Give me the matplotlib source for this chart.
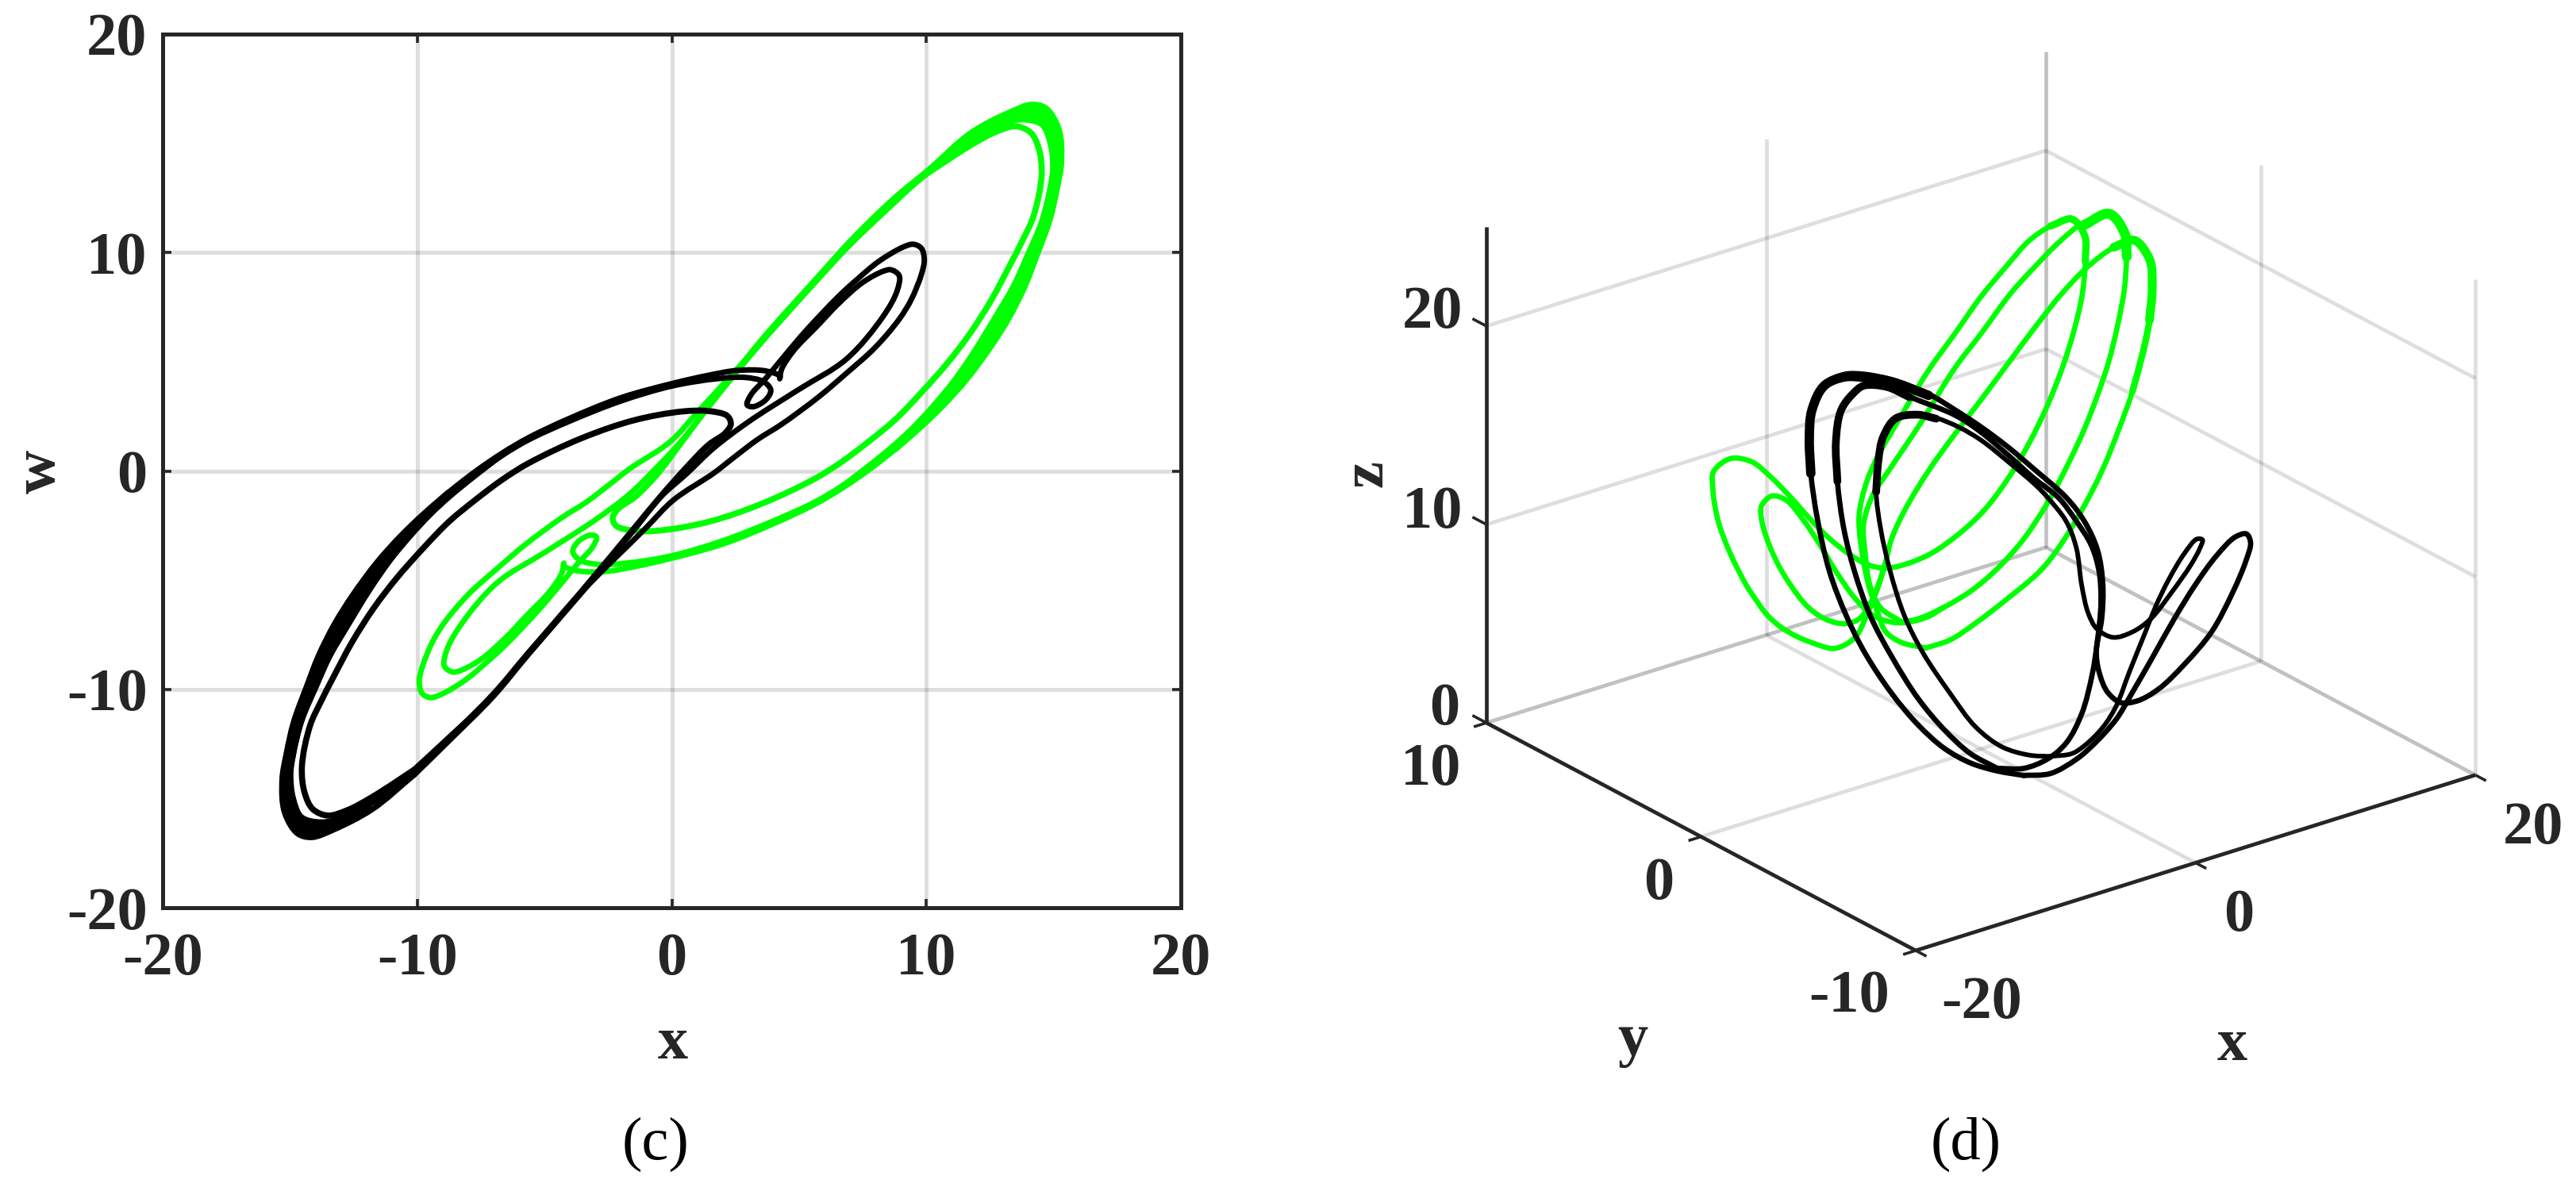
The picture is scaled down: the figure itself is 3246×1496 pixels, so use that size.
import matplotlib
matplotlib.use("Agg")
import matplotlib.pyplot as plt
from matplotlib.path import Path
from matplotlib.patches import PathPatch

W, H = 3246, 1496
BLACK, GREEN = "#000000", "#00ff00"
AXC = "#262626"
TXT = "#262626"

# ---------- panel (c): x-w plane ----------
black_1_x = [-9.96,-8.70,-7.03,-5.63,-3.56,-1.06,0.08,1.64,2.40,3.36,4.32,5.75,6.86,7.98,8.93,9.41,9.81,9.92,9.80,9.49,9.09,8.14,7.26,6.54,5.27,4.32,3.68,3.12,2.96,3.20,3.68,3.89,3.60,2.88,1.77,0.02,-2.0,-4.07,-5.63,-6.67,-7.71,-8.75,-9.48,-10.21,-11.04,-11.87,-12.70,-13.43,-13.95,-14.53,-14.87,-14.97,-14.87,-14.53,-13.75,-12.91,-12.12,-11.21,-9.96]
black_1_w = [-13.5,-12.14,-10.3,-8.36,-5.57,-2.66,-1.32,-0.11,0.58,1.43,2.14,3.37,4.47,5.64,6.94,7.85,9.01,9.66,10.2,10.38,10.25,9.60,8.75,7.98,6.42,5.12,4.22,3.50,3.02,2.94,3.24,3.70,4.09,4.28,4.22,3.89,3.2,2.25,1.42,0.70,-0.21,-1.2,-1.99,-2.9,-4.06,-5.45,-7.03,-8.48,-9.82,-11.42,-12.99,-13.9,-14.99,-15.86,-16.08,-15.86,-15.41,-14.81,-13.5]
black_2_x = [-10.1,-8.70,-7.03,-5.63,-3.56,-1.48,-0.44,0.6,1.64,3.04,4.95,6.86,8.30,8.85,8.93,8.61,8.30,7.5,6.54,5.75,4.79,4.32,4.24,4.24,3.68,2.56,1.45,0.08,-2.0,-4.07,-5.63,-6.67,-7.71,-8.75,-9.72,-10.65,-11.59,-12.53,-13.25,-13.88,-14.37,-14.86,-15.14,-15.31,-15.21,-14.69,-14.14,-13.30,-11.77,-10.1]
black_2_w = [-13.9,-12.3,-10.35,-8.4,-5.6,-2.7,-1.2,-0.11,1.04,2.27,3.70,5.12,7.07,8.24,8.95,9.21,9.14,8.63,7.65,6.68,5.51,4.67,4.22,4.35,4.58,4.60,4.38,4.02,3.35,2.38,1.52,0.81,-0.02,-0.96,-1.93,-2.97,-4.19,-5.67,-7.0,-8.46,-9.94,-11.51,-12.93,-14.14,-15.65,-16.62,-16.78,-16.44,-15.5,-13.9]
black_3_x = [-9.75,-7.03,-5.63,-3.56,-1.48,-0.44,0.6,1.45,2.09,2.32,2.17,1.45,0.4,-1.48,-3.56,-5.63,-6.67,-7.71,-8.75,-9.79,-10.83,-11.72,-12.55,-13.27,-13.8,-14.21,-14.53,-14.42,-14.09,-13.51,-12.74,-11.77,-9.75]
black_3_w = [-13.4,-10.25,-8.33,-5.54,-2.63,-1.17,0.19,1.2,1.72,2.14,2.53,2.74,2.72,2.32,1.49,0.35,-0.41,-1.32,-2.32,-3.57,-4.94,-6.3,-7.82,-9.39,-10.6,-11.66,-13.54,-14.75,-15.5,-15.78,-15.53,-14.93,-13.4]
black_4_x = [-8.75,-9.6,-10.43,-11.32,-12.2,-12.97,-13.65,-14.2,-14.7,-15.0,-15.14,-15.04,-14.61,-13.95,-13.1,-11.95]
black_4_w = [-1.05,-1.95,-2.92,-4.16,-5.56,-7.0,-8.47,-9.89,-11.47,-12.96,-14.02,-15.32,-16.24,-16.43,-16.15,-15.45]
black_5_x = [-13.65,-14.2,-14.7,-15.0,-15.14,-15.04,-14.61,-13.95,-13.1]
black_5_w = [-8.47,-9.89,-11.47,-12.96,-14.02,-15.32,-16.24,-16.43,-16.15]

green_1_x = [9.96,8.70,7.03,5.63,3.56,1.06,-0.08,-1.64,-2.40,-3.36,-4.32,-5.75,-6.86,-7.98,-8.93,-9.41,-9.81,-9.92,-9.80,-9.49,-9.09,-8.14,-7.26,-6.54,-5.27,-4.32,-3.68,-3.12,-2.96,-3.20,-3.68,-3.89,-3.60,-2.88,-1.77,-0.02,2.0,4.07,5.63,6.67,7.71,8.75,9.48,10.21,11.04,11.87,12.70,13.43,13.95,14.53,14.87,14.97,14.87,14.53,13.75,12.91,12.12,11.21,9.96]
green_1_w = [13.55,12.3,10.45,8.65,5.95,2.75,1.32,0.11,-0.58,-1.43,-2.14,-3.37,-4.47,-5.64,-6.94,-7.85,-9.01,-9.66,-10.2,-10.38,-10.25,-9.60,-8.75,-7.98,-6.42,-5.12,-4.22,-3.50,-3.02,-2.94,-3.24,-3.70,-4.09,-4.28,-4.22,-3.89,-3.2,-2.25,-1.42,-0.70,0.21,1.2,1.99,2.9,4.06,5.45,7.03,8.48,9.82,11.42,12.99,13.9,14.99,15.86,16.08,15.86,15.41,14.81,13.55]
green_2_x = [10.1,8.70,7.03,5.63,3.56,1.48,0.44,-0.6,-1.64,-3.04,-4.95,-6.86,-8.30,-8.85,-8.93,-8.61,-8.30,-7.5,-6.54,-5.75,-4.79,-4.32,-4.24,-4.24,-3.68,-2.56,-1.45,-0.08,2.0,4.07,5.63,6.67,7.71,8.75,9.72,10.65,11.59,12.53,13.25,13.88,14.37,14.86,15.14,15.31,15.21,14.69,14.14,13.30,11.77,10.1]
green_2_w = [13.8,12.45,10.55,8.75,6.05,3.0,1.45,0.15,-1.04,-2.27,-3.70,-5.12,-7.07,-8.24,-8.95,-9.21,-9.14,-8.63,-7.65,-6.68,-5.51,-4.67,-4.22,-4.35,-4.58,-4.60,-4.38,-4.02,-3.35,-2.38,-1.52,-0.81,0.02,0.96,1.93,2.97,4.19,5.67,7.0,8.46,9.94,11.51,12.93,14.14,15.65,16.62,16.78,16.44,15.5,13.8]
green_3_x = [9.75,7.03,5.63,3.56,1.48,0.44,-0.6,-1.45,-2.09,-2.32,-2.17,-1.45,-0.4,1.48,3.56,5.63,6.67,7.71,8.75,9.79,10.83,11.72,12.55,13.27,13.8,14.21,14.53,14.42,14.09,13.51,12.74,11.77,9.75]
green_3_w = [13.4,10.4,8.65,5.95,3.0,1.4,-0.19,-1.2,-1.72,-2.14,-2.53,-2.74,-2.72,-2.32,-1.49,-0.35,0.41,1.32,2.32,3.57,4.94,6.3,7.82,9.39,10.6,11.66,13.54,14.75,15.5,15.78,15.53,14.93,13.4]
green_4_x = [8.75,9.6,10.43,11.32,12.2,12.97,13.65,14.2,14.7,15.0,15.14,15.04,14.61,13.95,13.1,11.95]
green_4_w = [1.05,1.95,2.92,4.16,5.56,7.0,8.47,9.89,11.47,12.96,14.02,15.32,16.24,16.43,16.15,15.45]
green_5_x = [13.65,14.2,14.7,15.0,15.14,15.04,14.61,13.95,13.1]
green_5_w = [8.47,9.89,11.47,12.96,14.02,15.32,16.24,16.43,16.15]

ticks_c = [-20, -10, 0, 10, 20]
ticklabels_c = ["-20", "-10", "0", "10", "20"]

# ---------- panel (d): curves read in the plane of the projected picture ----------
g1_u = [683,620,578,557,530,512,507,523,551,627,690,760,829,899,955,1011,1066,1101,1103,1094,1073,1045,1004,955,899,836,767,690,613,571,530,481,432,383,327,272,223,171,125,122,136,167,209,226,265,300,341,383,439,474,502,523,544,564,578,592,627,690,760,829,899,969,1038,1108,1178,1230,1272,1279,1272,1255,1227,1192,1150,1101,1038,983,892,815,746,683]
g1_v = [1760,1740,1700,1630,1510,1370,1260,1150,1050,860,710,570,430,310,220,165,135,200,300,430,560,690,840,985,1120,1240,1332,1408,1450,1458,1445,1405,1350,1280,1190,1110,1055,1043,1090,1160,1280,1400,1520,1558,1635,1680,1715,1740,1762,1745,1710,1650,1580,1500,1430,1350,1240,1090,950,820,685,550,425,320,245,215,290,400,520,640,790,930,1080,1220,1370,1470,1580,1665,1730,1760]
g2_u = [620,565,537,523,519,544,585,669,760,829,906,969,1038,1101,1164,1206,1211,1206,1188,1164,1136,1101,1059,1004,934,864,801,732,662,620]
g2_v = [1662,1610,1530,1400,1290,1180,1090,910,700,570,420,320,220,150,125,190,280,400,540,680,800,930,1060,1210,1360,1470,1545,1605,1650,1662]
g3_u = [732,683,620,572,537,495,446,404,362,314,279,251,251,279,321,376,425,467,502,530,558,578]
g3_v = [1605,1645,1665,1655,1630,1570,1470,1370,1280,1200,1185,1220,1280,1400,1510,1610,1655,1668,1655,1610,1520,1430]
g_peak1_u = [1011,1066,1101,1103]
g_peak1_v = [165,138,200,300]
g_peak2_u = [1101,1164,1206,1212]
g_peak2_v = [160,118,190,280]
g_peak3_u = [1178,1230,1272,1279,1272]
g_peak3_v = [245,218,290,400,520]
g_tail3_u = [1279,1272,1255,1227]
g_tail3_v = [400,520,640,790]

k_a_u = [941,871,801,732,662,592,523,474,429,397,380,376,383,418,470,520,590,690,760,829,899,969,1052,1100,1135,1149,1146,1132,1139,1163,1198,1240,1296,1365,1435,1491,1526,1538,1526,1498,1449,1393,1337,1282,1226,1184,1128,1080,1010,941]
k_a_v = [2242,2225,2195,2140,2050,1930,1780,1640,1470,1270,1100,970,860,760,725,725,745,800,860,925,1000,1085,1190,1280,1390,1520,1650,1770,1850,1930,1967,1960,1915,1820,1700,1550,1430,1360,1328,1340,1410,1520,1650,1790,1930,2030,2120,2180,2235,2242]
k_b_u = [871,801,732,662,592,537,495,467,450,446,460,490,520,580,640,760,829,899,969,1031,1079,1118,1139,1144,1135,1121,1093,1052,1003,941,871]
k_b_v = [2215,2160,2070,1950,1790,1640,1470,1310,1130,980,860,800,765,770,810,880,945,1030,1120,1190,1280,1370,1470,1590,1730,1860,2010,2120,2180,2215,2215]
k_c_u = [1010,955,885,815,746,676,627,589,564,552,558,571,606,662,710,770,829,899,969,1003,1052,1079,1093,1111,1135,1177,1226,1275,1330,1379,1404,1411,1397,1365,1323,1289,1261,1219,1184,1149,1100,1066,1010]
k_c_v = [2170,2165,2135,2060,1930,1780,1640,1470,1310,1170,1050,960,890,875,890,925,975,1055,1140,1190,1280,1380,1520,1630,1690,1720,1700,1650,1550,1450,1385,1350,1348,1400,1500,1600,1700,1850,1980,2060,2130,2160,2170]
k_hump1_u = [380,376,383,418,470,520,590,690]
k_hump1_v = [1100,970,860,765,735,737,752,805]
k_hump2_u = [450,446,460,490,520,580,640]
k_hump2_v = [1130,980,860,800,768,773,812]
k_hump3_u = [552,558,571,606,662,710]
k_hump3_v = [1170,1050,960,890,878,893]

ticks_x3 = [-20, 0, 20]
ticks_y3 = [-10, 0, 10]
ticks_z3 = [0, 10, 20]


def px(x, y):
    return x / W, 1 - y / H


def smooth(xs, ys):
    """Path through the read points, drawn with centripetal cubic segments."""
    n = len(xs)
    d = []
    for i in range(n - 1):
        d.append(max(((xs[i + 1] - xs[i]) ** 2 + (ys[i + 1] - ys[i]) ** 2) ** 0.25, 1e-6))
    mx, my = [0.0] * n, [0.0] * n
    for i in range(n):
        if i == 0:
            mx[i], my[i] = (xs[1] - xs[0]) / d[0], (ys[1] - ys[0]) / d[0]
        elif i == n - 1:
            mx[i], my[i] = (xs[i] - xs[i - 1]) / d[i - 1], (ys[i] - ys[i - 1]) / d[i - 1]
        else:
            a, b = d[i - 1], d[i]
            mx[i] = (xs[i] - xs[i - 1]) / a - (xs[i + 1] - xs[i - 1]) / (a + b) + (xs[i + 1] - xs[i]) / b
            my[i] = (ys[i] - ys[i - 1]) / a - (ys[i + 1] - ys[i - 1]) / (a + b) + (ys[i + 1] - ys[i]) / b
    verts = [(xs[0], ys[0])]
    codes = [Path.MOVETO]
    for i in range(n - 1):
        verts += [(xs[i] + mx[i] * d[i] / 3, ys[i] + my[i] * d[i] / 3),
                  (xs[i + 1] - mx[i + 1] * d[i] / 3, ys[i + 1] - my[i + 1] * d[i] / 3),
                  (xs[i + 1], ys[i + 1])]
        codes += [Path.CURVE4] * 3
    return Path(verts, codes)


def curve(ax, xs, ys, color, lw, z=3):
    ax.add_patch(PathPatch(smooth(xs, ys), fill=False, edgecolor=color, lw=lw,
                           capstyle="round", joinstyle="round", zorder=z))


SERIF = "Liberation Serif"
FS = 55

# ---------- panel (c) ----------
fig = plt.figure(figsize=(W / 100, H / 100), dpi=100)
fig.patch.set_facecolor("white")
ax = fig.add_axes([205 / W, 1 - 1144 / H, (1488 - 205) / W, (1144 - 43) / H])
ax.set_xlim(-20, 20)
ax.set_ylim(-20, 20)
ax.set_xticks(ticks_c)
ax.set_yticks(ticks_c)
ax.set_xticklabels(ticklabels_c, family=SERIF, weight="bold", fontsize=FS, color=TXT)
ax.set_yticklabels(ticklabels_c, family=SERIF, weight="bold", fontsize=FS, color=TXT)
ax.tick_params(direction="in", top=True, right=True, length=8, width=2.6, color=AXC)
ax.tick_params(axis="x", pad=22)
ax.tick_params(axis="y", pad=14)
ax.grid(True, color="black", alpha=0.13, lw=3.6)
ax.set_axisbelow(True)
for s in ax.spines.values():
    s.set_linewidth(3.6)
    s.set_color(AXC)

LW = 5.0
for (cx, cy, lw) in [(green_1_x, green_1_w, LW), (green_2_x, green_2_w, LW),
                     (green_3_x, green_3_w, 5.5), (green_4_x, green_4_w, 8.0),
                     (green_5_x, green_5_w, 11.0)]:
    curve(ax, cx, cy, GREEN, lw)
for (cx, cy, lw) in [(black_1_x, black_1_w, LW), (black_2_x, black_2_w, LW),
                     (black_3_x, black_3_w, 5.5), (black_4_x, black_4_w, 8.0),
                     (black_5_x, black_5_w, 11.0)]:
    curve(ax, cx, cy, BLACK, lw, z=4)

fig.text(*px(848, 1316), "x", family=SERIF, weight="bold", fontsize=FS, color=TXT, ha="center", va="center")
fig.text(*px(50, 594), "w", family=SERIF, weight="bold", fontsize=FS, color=TXT, ha="center", va="center", rotation=90)
fig.text(*px(826, 1442), "(c)", family=SERIF, fontsize=FS, color="black", ha="center", va="center")

# ---------- panel (d) ----------
ov = fig.add_axes([0, 0, 1, 1], facecolor="none")
ov.set_axis_off()
ov.set_xlim((0 - 2100) * 2.09, (W - 2100) * 2.09)
ov.set_ylim((H - 230) * 3, (0 - 230) * 3)


def proj(x, y, z):
    pu = 1873 + (x + 20) * 17.63 + (10 - y) * 27.05
    pv = 911 - (x + 20) * 5.53 + (10 - y) * 14.35 - z * 25
    return (pu - 2100) * 2.09, (pv - 230) * 3


def seg(a, b, **kw):
    ua, va = proj(*a)
    ub, vb = proj(*b)
    ov.plot([ua, ub], [va, vb], solid_capstyle="butt", **kw)


grid = dict(color="black", alpha=0.13, lw=3.4, zorder=1)
for t in ticks_x3:
    seg((t, -10, 0), (t, 10, 0), **grid)
    seg((t, 10, 0), (t, 10, 25), **grid)
for t in ticks_y3:
    seg((-20, t, 0), (20, t, 0), **grid)
    seg((20, t, 0), (20, t, 25), **grid)
for t in ticks_z3:
    seg((-20, 10, t), (20, 10, t), **grid)
    seg((20, 10, t), (20, -10, t), **grid)

axis = dict(color=AXC, lw=3.4, zorder=2)
seg((-20, 10, 0), (-20, 10, 25), **axis)
seg((-20, 10, 0), (-20, -10, 0), **axis)
seg((-20, -10, 0), (20, -10, 0), **axis)
tick = dict(color=AXC, lw=2.6, zorder=2)
for t in ticks_z3:
    seg((-20, 10, t), (-20, 10.65, t), **tick)
for t in ticks_y3:
    seg((-20, t, 0), (-20.9, t, 0), **tick)
for t in ticks_x3:
    seg((t, -10, 0), (t, -10.5, 0), **tick)

for cu, cv, lw in [(g1_u, g1_v, 4.8), (g2_u, g2_v, 4.8), (g3_u, g3_v, 4.8),
                   (g_tail3_u, g_tail3_v, 6.0),
                   (g_peak1_u, g_peak1_v, 6.5), (g_peak2_u, g_peak2_v, 9.0), (g_peak3_u, g_peak3_v, 8.0)]:
    curve(ov, cu, cv, GREEN, lw)
for cu, cv, lw in [(k_a_u, k_a_v, 4.8), (k_b_u, k_b_v, 4.8), (k_c_u, k_c_v, 4.2),
                   (k_hump1_u, k_hump1_v, 8.5), (k_hump2_u, k_hump2_v, 7.0), (k_hump3_u, k_hump3_v, 7.0)]:
    curve(ov, cu, cv, BLACK, lw, z=4)

labels_d = [("20", 1805, 395), ("10", 1805, 646), ("0", 1820, 895),
            ("10", 1803, 970), ("0", 2090, 1114), ("-10", 2330, 1257),
            ("-20", 2497, 1265), ("0", 2821, 1155), ("20", 3192, 1045)]
for s, a, b in labels_d:
    fig.text(*px(a, b), s, family=SERIF, weight="bold", fontsize=FS, color=TXT, ha="center", va="center")
fig.text(*px(2057, 1312), "y", family=SERIF, weight="bold", fontsize=FS, color=TXT, ha="center", va="center")
fig.text(*px(2813, 1318), "x", family=SERIF, weight="bold", fontsize=FS, color=TXT, ha="center", va="center")
fig.text(*px(1723, 597), "z", family=SERIF, weight="bold", fontsize=FS, color=TXT, ha="center", va="center", rotation=90)
fig.text(*px(2477, 1442), "(d)", family=SERIF, fontsize=FS, color="black", ha="center", va="center")

fig.savefig("out.png", dpi=100, facecolor="white")
